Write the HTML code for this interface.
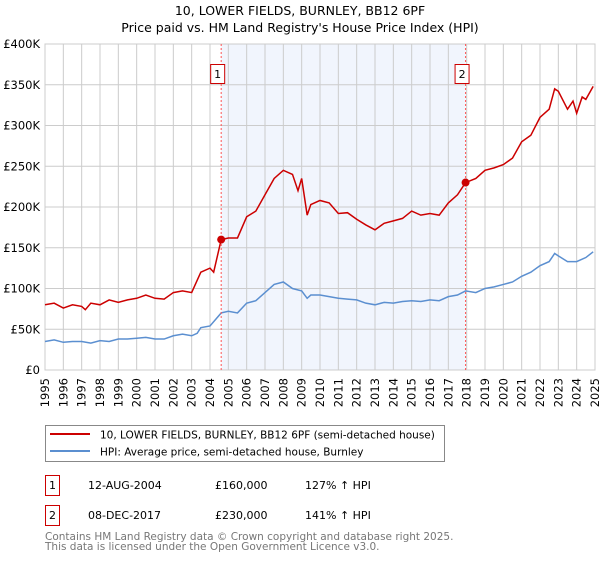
<!DOCTYPE html>
<html><head><meta charset="utf-8"><style>
body{margin:0;background:#fff;font-family:"DejaVu Sans","Liberation Sans",sans-serif;}
svg text{font-family:"DejaVu Sans","Liberation Sans",sans-serif;}
</style></head><body>
<svg id="chart" width="600" height="560" xmlns="http://www.w3.org/2000/svg">
<text x="300" y="15" text-anchor="middle" font-size="12.5">10, LOWER FIELDS, BURNLEY, BB12 6PF</text>
<text x="300" y="32" text-anchor="middle" font-size="12.5">Price paid vs. HM Land Registry's House Price Index (HPI)</text>
<g id="plot"></g>
<g>
<rect x="45.5" y="425.5" width="399" height="36" fill="#fff" stroke="#888"/>
<line x1="50" y1="434" x2="90" y2="434" stroke="#cc0000" stroke-width="2"/>
<text x="100" y="438.5" font-size="10.5">10, LOWER FIELDS, BURNLEY, BB12 6PF (semi-detached house)</text>
<line x1="50" y1="451" x2="90" y2="451" stroke="#5b8fd0" stroke-width="2"/>
<text x="100" y="455.5" font-size="10.5">HPI: Average price, semi-detached house, Burnley</text>
</g>
<g font-size="11">
<rect x="45.5" y="475.5" width="14" height="20" fill="#fff" stroke="#cc0000"/>
<text x="52.5" y="489" text-anchor="middle">1</text>
<text x="88" y="489">12-AUG-2004</text><text x="215" y="489">£160,000</text><text x="305" y="489">127% ↑ HPI</text>
<rect x="45.5" y="505.5" width="14" height="20" fill="#fff" stroke="#cc0000"/>
<text x="52.5" y="519" text-anchor="middle">2</text>
<text x="88" y="519">08-DEC-2017</text><text x="215" y="519">£230,000</text><text x="305" y="519">141% ↑ HPI</text>
</g>
<text x="45" y="540" font-size="10.5" fill="#777">Contains HM Land Registry data © Crown copyright and database right 2025.</text>
<text x="45" y="550" font-size="10.5" fill="#777">This data is licensed under the Open Government Licence v3.0.</text>
</svg>
<script>
const redYears=[1995,1995.5,1996,1996.5,1997,1997.2,1997.5,1998,1998.5,1999,1999.5,2000,2000.5,2001,2001.5,2002,2002.5,2003,2003.3,2003.5,2004,2004.2,2004.61,2005,2005.5,2006,2006.5,2007,2007.5,2008,2008.5,2008.8,2009,2009.3,2009.5,2010,2010.5,2011,2011.5,2012,2012.5,2013,2013.5,2014,2014.5,2015,2015.5,2016,2016.5,2017,2017.5,2017.94,2018.5,2019,2019.5,2020,2020.5,2021,2021.5,2022,2022.5,2022.8,2023,2023.5,2023.8,2024,2024.3,2024.5,2024.9];
const redValues=[80,82,76,80,78,74,82,80,86,83,86,88,92,88,87,95,97,95,110,120,125,120,160,162,162,188,195,215,235,245,240,220,235,190,203,208,205,192,193,185,178,172,180,183,186,195,190,192,190,205,215,230,235,245,248,252,260,280,288,310,320,345,342,320,330,315,335,332,348];
const hpiYears=[1995,1995.5,1996,1996.5,1997,1997.5,1998,1998.5,1999,1999.5,2000,2000.5,2001,2001.5,2002,2002.5,2003,2003.3,2003.5,2004,2004.61,2005,2005.5,2006,2006.5,2007,2007.5,2008,2008.5,2009,2009.3,2009.5,2010,2010.5,2011,2011.5,2012,2012.5,2013,2013.5,2014,2014.5,2015,2015.5,2016,2016.5,2017,2017.5,2017.94,2018.5,2019,2019.5,2020,2020.5,2021,2021.5,2022,2022.5,2022.8,2023,2023.5,2024,2024.5,2024.9];
const hpiValues=[35,37,34,35,35,33,36,35,38,38,39,40,38,38,42,44,42,45,52,54,70,72,70,82,85,95,105,108,100,97,88,92,92,90,88,87,86,82,80,83,82,84,85,84,86,85,90,92,97,95,100,102,105,108,115,120,128,133,143,140,133,133,138,145];
const yTicks=[0,50,100,150,200,250,300,350,400];
const yTickLabels=["£0","£50K","£100K","£150K","£200K","£250K","£300K","£350K","£400K"];
const xTicks=[1995,1996,1997,1998,1999,2000,2001,2002,2003,2004,2005,2006,2007,2008,2009,2010,2011,2012,2013,2014,2015,2016,2017,2018,2019,2020,2021,2022,2023,2024,2025];
const saleYears=[2004.61,2017.94];
const salePrices=[160,230];
const saleLabels=["1","2"];

const X0=45,X1=595,Y0=370,Y1=44;
const xs=v=>X0+(v-1995)/30*(X1-X0);
const ys=v=>Y0-v/400*(Y0-Y1);
const NS="http://www.w3.org/2000/svg";
const g=document.getElementById('plot');
function mk(t,a,p){const e=document.createElementNS(NS,t);for(const k in a)e.setAttribute(k,a[k]);(p||g).appendChild(e);return e;}

const shade=mk('rect',{x:xs(saleYears[0]),y:Y1,width:xs(saleYears[1])-xs(saleYears[0]),height:Y0-Y1,fill:'#eef3fc',opacity:0.8});



yTicks.forEach((t,i)=>{
  const l=mk('line',{x1:X0,x2:X1,y1:ys(t),y2:ys(t),stroke:'#ccc','stroke-width':1});
  
  
  const tx=mk('text',{x:40,y:ys(t)+4,'text-anchor':'end','font-size':11.5});
  
  
  tx.textContent=yTickLabels[i];
});
xTicks.forEach(t=>{
  const l=mk('line',{x1:xs(t),x2:xs(t),y1:Y1,y2:Y0,stroke:'#ccc','stroke-width':1});
  
  
  const tx=mk('text',{x:0,y:0,'text-anchor':'end','font-size':11.5,transform:`translate(${xs(t)+4},${Y0+8}) rotate(-90)`});
  
  
  tx.textContent=t;
});
const ax=mk('rect',{x:X0,y:Y1,width:X1-X0,height:Y0-Y1,fill:'none',stroke:'#ccc'});



const hp=mk('polyline',{points:hpiYears.map((y,i)=>xs(y)+','+ys(hpiValues[i])).join(' '),fill:'none',stroke:'#5b8fd0','stroke-width':1.5});


const rp=mk('polyline',{points:redYears.map((y,i)=>xs(y)+','+ys(redValues[i])).join(' '),fill:'none',stroke:'#cc0000','stroke-width':1.5});



saleYears.forEach((s,i)=>{
  const l=mk('line',{x1:xs(s),x2:xs(s),y1:Y1,y2:Y0,stroke:'#f55','stroke-width':1,'stroke-dasharray':'2,2'});
  
  
  const c=mk('circle',{cx:xs(s),cy:ys(salePrices[i]),r:4,fill:'#cc0000'});
  
  
  const b=mk('rect',{x:xs(s)-10.5,y:64.5,width:14,height:19,fill:'#fff',stroke:'#cc0000'});
  
  
  const t=mk('text',{x:xs(s)-3.5,y:78,'text-anchor':'middle','font-size':11});
  
  
  t.textContent=saleLabels[i];
});
</script>
</body></html>
